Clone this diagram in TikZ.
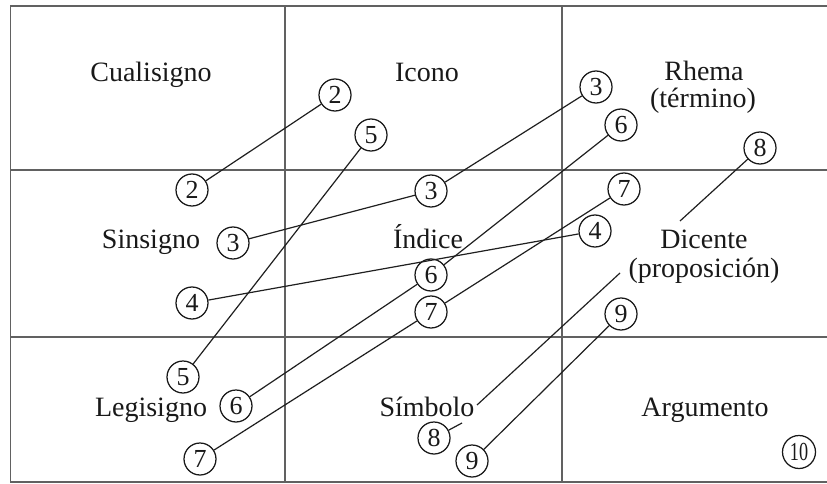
\documentclass[tikz,border=0pt]{standalone}
\usepackage{fontspec}
\setmainfont{Liberation Serif}
\begin{document}
\begin{tikzpicture}[x=1pt,y=-1pt,
  grid/.style={line width=1.5pt, draw=black!62},
  lbl/.style={anchor=base, font=\fontsize{28}{30}\selectfont, text=black!90, inner sep=0pt},
  num/.style={circle, draw=black!90, line width=1.25pt, minimum size=32pt, inner sep=0pt,
              font=\fontsize{26}{26}\selectfont, text=black!90},
  link/.style={line width=1.2pt, draw=black!88}]
\useasboundingbox (0,0) rectangle (827,484);

% table frame (open on the right)
\draw[grid] (827,6) -- (10.5,6) -- (10.5,482) -- (827,482);
\draw[grid] (10.5,170) -- (827,170);
\draw[grid] (10.5,337) -- (827,337);
\draw[grid] (285,6) -- (285,482);
\draw[grid] (562,6) -- (562,482);

% cell labels
\node[lbl] (cuali) at (151,82) {Cualisigno};
\node[lbl] (icono) at (427,82) {Icono};
\node[lbl] (rhema) at (704,81) {Rhema};
\node[lbl] (termino) at (703,108) {(término)};
\node[lbl] (sinsi) at (151,248) {Sinsigno};
\node[lbl] (indice) at (428,248) {Índice};
\node[lbl] (dicente) at (704,248) {Dicente};
\node[lbl] (propos) at (704,277) {(proposición)};
\node[lbl] (legisi) at (151,416) {Legisigno};
\node[lbl] (simbolo) at (427,416) {Símbolo};
\node[lbl] (argum) at (705,416) {Argumento};

% numbered circles
\node[num] (n2a) at (335,95) {2};
\node[num] (n2b) at (192,190) {2};
\node[num] (n5a) at (371,135) {5};
\node[num] (n5b) at (183,377) {5};
\node[num] (n3a) at (596,87) {3};
\node[num] (n3b) at (431,191) {3};
\node[num] (n3c) at (233,243) {3};
\node[num] (n6a) at (621,125) {6};
\node[num] (n6b) at (431,275) {6};
\node[num] (n6c) at (236,406) {6};
\node[num] (n7a) at (624,189) {7};
\node[num] (n7b) at (431,312) {7};
\node[num] (n7c) at (200,459) {7};
\node[num] (n4a) at (595,231) {4};
\node[num] (n4b) at (192,303) {4};
\node[num] (n8a) at (760,148) {8};
\node[num] (n8b) at (434,438) {8};
\node[num] (n9a) at (621,314) {9};
\node[num] (n9b) at (472,461) {9};
\node[num, minimum size=33pt] (n10) at (799,452) {\scalebox{0.7}[1]{10}};

% free ends of the broken line 8
\coordinate (e8a) at (680,221);
\coordinate (e8b) at (620,273);
\coordinate (e8c) at (477,405);
\coordinate (e8d) at (462,423);

% connectors
\draw[link] (n2b) -- (n2a);
\draw[link] (n5b) -- (n5a);
\draw[link] (n3c) -- (n3b) -- (n3a);
\draw[link] (n6c) -- (n6b) -- (n6a);
\draw[link] (n7c) -- (n7b) -- (n7a);
\draw[link] (n4b) -- (n4a);
\draw[link] (n8a) -- (e8a);
\draw[link] (e8b) -- (e8c);
\draw[link] (e8d) -- (n8b);
\draw[link] (n9a) -- (n9b);
\end{tikzpicture}
\end{document}
